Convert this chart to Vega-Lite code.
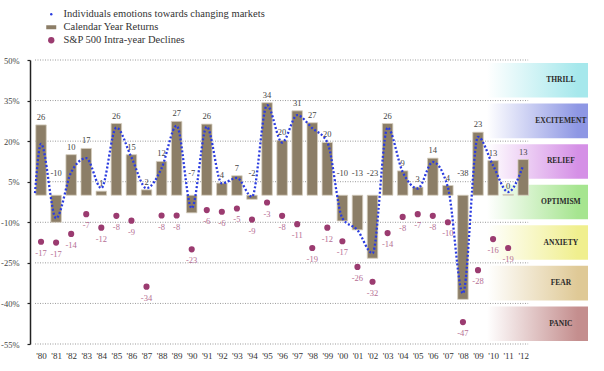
{
  "$schema": "https://vega.github.io/schema/vega-lite/v6.json",
  "width": 563,
  "height": 284,
  "autosize": "none",
  "padding": {"left": 30, "top": 60, "right": 11, "bottom": 27},
  "background": "white",
  "config": {"view": {"stroke": null}, "font": "Liberation Serif"},
  "datasets": {
    "bands": [
      {"label": "THRILL", "lo": 35, "hi": 50},
      {"label": "EXCITEMENT", "lo": 20, "hi": 35},
      {"label": "RELIEF", "lo": 5, "hi": 20},
      {"label": "OPTIMISM", "lo": -10, "hi": 5},
      {"label": "ANXIETY", "lo": -25, "hi": -10},
      {"label": "FEAR", "lo": -40, "hi": -25},
      {"label": "PANIC", "lo": -55, "hi": -40}
    ],
    "grid": [{"v": -55}, {"v": -40}, {"v": -25}, {"v": -10}, {"v": 5}, {"v": 20}, {"v": 35}, {"v": 50}],
    "returns": [
      {"year": 1980, "ret": 26, "label": "26"},
      {"year": 1981, "ret": -10, "label": "-10"},
      {"year": 1982, "ret": 15, "label": "10"},
      {"year": 1983, "ret": 17.3, "label": "17"},
      {"year": 1984, "ret": 1.5, "label": "1"},
      {"year": 1985, "ret": 26.5, "label": "26"},
      {"year": 1986, "ret": 15, "label": "15"},
      {"year": 1987, "ret": 2, "label": "2"},
      {"year": 1988, "ret": 12.5, "label": "12"},
      {"year": 1989, "ret": 27.3, "label": "27"},
      {"year": 1990, "ret": -6.5, "label": "-7"},
      {"year": 1991, "ret": 26.3, "label": "26"},
      {"year": 1992, "ret": 4.5, "label": "4"},
      {"year": 1993, "ret": 7.2, "label": "7"},
      {"year": 1994, "ret": -1.5, "label": "-2"},
      {"year": 1995, "ret": 34.2, "label": "34"},
      {"year": 1996, "ret": 20.3, "label": "20"},
      {"year": 1997, "ret": 31.2, "label": "31"},
      {"year": 1998, "ret": 26.8, "label": "27"},
      {"year": 1999, "ret": 19.5, "label": "20"},
      {"year": 2000, "ret": -9.5, "label": "-10"},
      {"year": 2001, "ret": -12.8, "label": "-13"},
      {"year": 2002, "ret": -23.3, "label": "-23"},
      {"year": 2003, "ret": 26.5, "label": "26"},
      {"year": 2004, "ret": 9, "label": "9"},
      {"year": 2005, "ret": 3, "label": "3"},
      {"year": 2006, "ret": 13.7, "label": "14"},
      {"year": 2007, "ret": 3.6, "label": "4"},
      {"year": 2008, "ret": -38.5, "label": "-38"},
      {"year": 2009, "ret": 23.3, "label": "23"},
      {"year": 2010, "ret": 12.8, "label": "13"},
      {"year": 2011, "ret": 0.3, "label": "0"},
      {"year": 2012, "ret": 13.2, "label": "13"}
    ],
    "emotions": [
      {"year": 1979.6, "emo": 0.8},
      {"year": 1980, "emo": 19},
      {"year": 1981, "emo": -8.5},
      {"year": 1982, "emo": 8.5},
      {"year": 1983, "emo": 13.7},
      {"year": 1984, "emo": 2.6},
      {"year": 1985, "emo": 25},
      {"year": 1986, "emo": 14},
      {"year": 1987, "emo": 2.6},
      {"year": 1988, "emo": 10},
      {"year": 1989, "emo": 25.7},
      {"year": 1990, "emo": -4.8},
      {"year": 1991, "emo": 25.3},
      {"year": 1992, "emo": 4.4},
      {"year": 1993, "emo": 6.4},
      {"year": 1994, "emo": -0.6},
      {"year": 1995, "emo": 33.3},
      {"year": 1996, "emo": 19.5},
      {"year": 1997, "emo": 29.6},
      {"year": 1998, "emo": 24.8},
      {"year": 1999, "emo": 19.6},
      {"year": 2000, "emo": -8.5},
      {"year": 2001, "emo": -12.9},
      {"year": 2002, "emo": -21.5},
      {"year": 2003, "emo": 25},
      {"year": 2004, "emo": 8.6},
      {"year": 2005, "emo": 2.5},
      {"year": 2006, "emo": 12.3},
      {"year": 2007, "emo": 3},
      {"year": 2008, "emo": -36.3},
      {"year": 2009, "emo": 21.6},
      {"year": 2010, "emo": 11},
      {"year": 2011, "emo": 1.2},
      {"year": 2012, "emo": 11}
    ],
    "declines": [
      {"year": 1980, "dec": -17.2, "label": "-17"},
      {"year": 1981, "dec": -17.5, "label": "-17"},
      {"year": 1982, "dec": -14.3, "label": "-14"},
      {"year": 1983, "dec": -7, "label": "-7"},
      {"year": 1984, "dec": -12, "label": "-12"},
      {"year": 1985, "dec": -7.6, "label": "-8"},
      {"year": 1986, "dec": -9.4, "label": "-9"},
      {"year": 1987, "dec": -33.8, "label": "-34"},
      {"year": 1988, "dec": -7.5, "label": "-8"},
      {"year": 1989, "dec": -7.5, "label": "-8"},
      {"year": 1990, "dec": -20, "label": "-23"},
      {"year": 1991, "dec": -5.5, "label": "-6"},
      {"year": 1992, "dec": -6.1, "label": "-6"},
      {"year": 1993, "dec": -4.9, "label": "-5"},
      {"year": 1994, "dec": -9, "label": "-9"},
      {"year": 1995, "dec": -2.7, "label": "-3"},
      {"year": 1996, "dec": -7.6, "label": "-8"},
      {"year": 1997, "dec": -10.7, "label": "-11"},
      {"year": 1998, "dec": -19.5, "label": "-19"},
      {"year": 1999, "dec": -12, "label": "-12"},
      {"year": 2000, "dec": -17, "label": "-17"},
      {"year": 2001, "dec": -26.5, "label": "-26"},
      {"year": 2002, "dec": -32, "label": "-32"},
      {"year": 2003, "dec": -14, "label": "-14"},
      {"year": 2004, "dec": -8, "label": "-8"},
      {"year": 2005, "dec": -7, "label": "-7"},
      {"year": 2006, "dec": -7.6, "label": "-8"},
      {"year": 2007, "dec": -10, "label": "-10"},
      {"year": 2008, "dec": -46.9, "label": "-47"},
      {"year": 2009, "dec": -27.7, "label": "-28"},
      {"year": 2010, "dec": -16.2, "label": "-16"},
      {"year": 2011, "dec": -19.5, "label": "-19"}
    ]
  },
  "layer": [
    {
      "data": {"name": "bands"},
      "transform": [{"filter": "datum.label === 'THRILL'"}],
      "mark": {"type": "rect", "yOffset": 3, "y2Offset": -3, "fill": {"gradient": "linear", "x1": 0, "x2": 1, "y1": 0, "y2": 0, "stops": [{"offset": 0, "color": "#ffffff"}, {"offset": 0.9, "color": "#a6e8ec"}, {"offset": 1, "color": "#a6e8ec"}]}},
      "encoding": {
        "x": {"datum": 2009.6, "type": "quantitative", "scale": {"domain": [1979.6, 2016.3], "nice": false, "zero": false}, "axis": {"values": [1980, 1981, 1982, 1983, 1984, 1985, 1986, 1987, 1988, 1989, 1990, 1991, 1992, 1993, 1994, 1995, 1996, 1997, 1998, 1999, 2000, 2001, 2002, 2003, 2004, 2005, 2006, 2007, 2008, 2009, 2010, 2011, 2012], "tickCount": 100, "labelExpr": "\"'\" + substring(toString(datum.value), 2)", "domain": false, "ticks": false, "grid": false, "labelFont": "Liberation Serif", "labelFontSize": 9, "labelColor": "#333", "labelPadding": 7, "labelFlush": false, "labelOverlap": false, "title": null}},
        "x2": {"datum": 2016.3},
        "y": {"field": "hi", "type": "quantitative", "scale": {"domain": [-55, 50], "nice": false, "zero": false}, "axis": {"values": [-55, -40, -25, -10, 5, 20, 35, 50], "tickCount": 20, "labelExpr": "datum.value + '%'", "grid": false, "domainColor": "#222", "domainWidth": 1.5, "tickColor": "#222", "tickSize": 3, "tickWidth": 1.2, "labelFont": "Liberation Serif", "labelFontSize": 8.5, "labelColor": "#444", "labelPadding": 8, "title": null}},
        "y2": {"field": "lo"}
      }
    },
    {
      "data": {"name": "bands"},
      "transform": [{"filter": "datum.label === 'EXCITEMENT'"}],
      "mark": {"type": "rect", "yOffset": 3, "y2Offset": -3, "fill": {"gradient": "linear", "x1": 0, "x2": 1, "y1": 0, "y2": 0, "stops": [{"offset": 0, "color": "#ffffff"}, {"offset": 0.9, "color": "#8e97e4"}, {"offset": 1, "color": "#8e97e4"}]}},
      "encoding": {
        "x": {"datum": 2009.6, "type": "quantitative"},
        "x2": {"datum": 2016.3},
        "y": {"field": "hi", "type": "quantitative"},
        "y2": {"field": "lo"}
      }
    },
    {
      "data": {"name": "bands"},
      "transform": [{"filter": "datum.label === 'RELIEF'"}],
      "mark": {"type": "rect", "yOffset": 3, "y2Offset": -3, "fill": {"gradient": "linear", "x1": 0, "x2": 1, "y1": 0, "y2": 0, "stops": [{"offset": 0, "color": "#ffffff"}, {"offset": 0.9, "color": "#d590e6"}, {"offset": 1, "color": "#d590e6"}]}},
      "encoding": {
        "x": {"datum": 2009.6, "type": "quantitative"},
        "x2": {"datum": 2016.3},
        "y": {"field": "hi", "type": "quantitative"},
        "y2": {"field": "lo"}
      }
    },
    {
      "data": {"name": "bands"},
      "transform": [{"filter": "datum.label === 'OPTIMISM'"}],
      "mark": {"type": "rect", "yOffset": 3, "y2Offset": -3, "fill": {"gradient": "linear", "x1": 0, "x2": 1, "y1": 0, "y2": 0, "stops": [{"offset": 0, "color": "#ffffff"}, {"offset": 0.9, "color": "#a6e590"}, {"offset": 1, "color": "#a6e590"}]}},
      "encoding": {
        "x": {"datum": 2009.6, "type": "quantitative"},
        "x2": {"datum": 2016.3},
        "y": {"field": "hi", "type": "quantitative"},
        "y2": {"field": "lo"}
      }
    },
    {
      "data": {"name": "bands"},
      "transform": [{"filter": "datum.label === 'ANXIETY'"}],
      "mark": {"type": "rect", "yOffset": 3, "y2Offset": -3, "fill": {"gradient": "linear", "x1": 0, "x2": 1, "y1": 0, "y2": 0, "stops": [{"offset": 0, "color": "#ffffff"}, {"offset": 0.9, "color": "#f0ef8e"}, {"offset": 1, "color": "#f0ef8e"}]}},
      "encoding": {
        "x": {"datum": 2009.6, "type": "quantitative"},
        "x2": {"datum": 2016.3},
        "y": {"field": "hi", "type": "quantitative"},
        "y2": {"field": "lo"}
      }
    },
    {
      "data": {"name": "bands"},
      "transform": [{"filter": "datum.label === 'FEAR'"}],
      "mark": {"type": "rect", "yOffset": 3, "y2Offset": -3, "fill": {"gradient": "linear", "x1": 0, "x2": 1, "y1": 0, "y2": 0, "stops": [{"offset": 0, "color": "#ffffff"}, {"offset": 0.9, "color": "#dfc996"}, {"offset": 1, "color": "#dfc996"}]}},
      "encoding": {
        "x": {"datum": 2009.6, "type": "quantitative"},
        "x2": {"datum": 2016.3},
        "y": {"field": "hi", "type": "quantitative"},
        "y2": {"field": "lo"}
      }
    },
    {
      "data": {"name": "bands"},
      "transform": [{"filter": "datum.label === 'PANIC'"}],
      "mark": {"type": "rect", "yOffset": 3, "y2Offset": -3, "fill": {"gradient": "linear", "x1": 0, "x2": 1, "y1": 0, "y2": 0, "stops": [{"offset": 0, "color": "#ffffff"}, {"offset": 0.9, "color": "#c48e8e"}, {"offset": 1, "color": "#c48e8e"}]}},
      "encoding": {
        "x": {"datum": 2009.6, "type": "quantitative"},
        "x2": {"datum": 2016.3},
        "y": {"field": "hi", "type": "quantitative"},
        "y2": {"field": "lo"}
      }
    },
    {
      "data": {"name": "bands"},
      "transform": [{"calculate": "(datum.lo + datum.hi) / 2", "as": "mid"}],
      "mark": {"type": "text", "font": "Liberation Serif", "fontSize": 7.5, "fontWeight": "bold", "color": "#2a2a2a", "align": "center", "baseline": "middle"},
      "encoding": {
        "x": {"datum": 2014.5, "type": "quantitative"},
        "y": {"field": "mid", "type": "quantitative"},
        "text": {"field": "label"}
      }
    },
    {
      "data": {"name": "grid"},
      "mark": {"type": "rule", "color": "#9a9a9a", "strokeWidth": 1, "strokeDash": [1, 1.5]},
      "encoding": {
        "x": {"datum": 1979.6, "type": "quantitative"},
        "x2": {"datum": 2012.33},
        "y": {"field": "v", "type": "quantitative"}
      }
    },
    {
      "data": {"name": "returns"},
      "mark": {"type": "bar", "width": 10.5, "orient": "vertical", "stroke": "#d6cebf", "strokeWidth": 0.8},
      "encoding": {
        "x": {"field": "year", "type": "quantitative"},
        "y": {"field": "ret", "type": "quantitative"},
        "y2": {"datum": 0},
        "color": {"datum": "Calendar Year Returns", "type": "nominal"}
      }
    },
    {
      "mark": {"type": "rule", "color": "#111", "strokeWidth": 1.5},
      "encoding": {
        "x": {"datum": 1979.6, "type": "quantitative"},
        "x2": {"datum": 2012.33},
        "y": {"datum": 0, "type": "quantitative"}
      }
    },
    {
      "data": {"name": "returns"},
      "transform": [{"filter": "datum.ret >= 0"}],
      "mark": {"type": "text", "font": "Liberation Serif", "fontSize": 8.5, "color": "#444", "baseline": "middle", "dy": -8},
      "encoding": {
        "x": {"field": "year", "type": "quantitative"},
        "y": {"field": "ret", "type": "quantitative"},
        "text": {"field": "label"}
      }
    },
    {
      "data": {"name": "returns"},
      "transform": [{"filter": "datum.ret < 0"}],
      "mark": {"type": "text", "font": "Liberation Serif", "fontSize": 8.5, "color": "#444", "baseline": "middle", "dy": -22},
      "encoding": {
        "x": {"field": "year", "type": "quantitative"},
        "y": {"datum": 0, "type": "quantitative"},
        "text": {"field": "label"}
      }
    },
    {
      "data": {"name": "emotions"},
      "mark": {"type": "line", "interpolate": "monotone", "strokeWidth": 2.3, "strokeDash": [2, 2], "strokeCap": "butt"},
      "encoding": {
        "x": {"field": "year", "type": "quantitative"},
        "y": {"field": "emo", "type": "quantitative"},
        "color": {
          "datum": "Individuals emotions towards changing markets",
          "type": "nominal",
          "scale": {"domain": ["Individuals emotions towards changing markets", "Calendar Year Returns", "S&P 500 Intra-year Declines"], "range": ["#2a3be0", "#8c7e67", "#9b3b70"]},
          "legend": {
            "title": null,
            "orient": "none",
            "legendX": 16,
            "legendY": -51,
            "padding": 0,
            "symbolSize": 40,
            "labelFont": "Liberation Serif",
            "labelFontSize": 10.5,
            "labelColor": "#333",
            "labelLimit": 400,
            "labelOffset": 7,
            "rowPadding": 2,
            "encode": {
              "symbols": {
                "update": {
                  "shape": {"signal": "datum.value === 'Calendar Year Returns' ? 'M-1,-0.4H1V0.4H-1Z' : 'circle'"},
                  "size": {"signal": "datum.value === 'Calendar Year Returns' ? 100 : (datum.value === 'S&P 500 Intra-year Declines' ? 40 : 6)"},
                  "fill": {"scale": "color", "field": "value"},
                  "stroke": {"value": "transparent"},
                  "strokeWidth": {"value": 0},
                  "opacity": {"value": 1}
                }
              }
            }
          }
        }
      }
    },
    {
      "data": {"name": "declines"},
      "mark": {"type": "point", "filled": true, "size": 38, "opacity": 1},
      "encoding": {
        "x": {"field": "year", "type": "quantitative"},
        "y": {"field": "dec", "type": "quantitative"},
        "color": {"datum": "S&P 500 Intra-year Declines", "type": "nominal"}
      }
    },
    {
      "data": {"name": "declines"},
      "mark": {"type": "text", "font": "Liberation Serif", "fontSize": 8.5, "color": "#b56e93", "baseline": "middle", "dy": 11},
      "encoding": {
        "x": {"field": "year", "type": "quantitative"},
        "y": {"field": "dec", "type": "quantitative"},
        "text": {"field": "label"}
      }
    }
  ]
}
